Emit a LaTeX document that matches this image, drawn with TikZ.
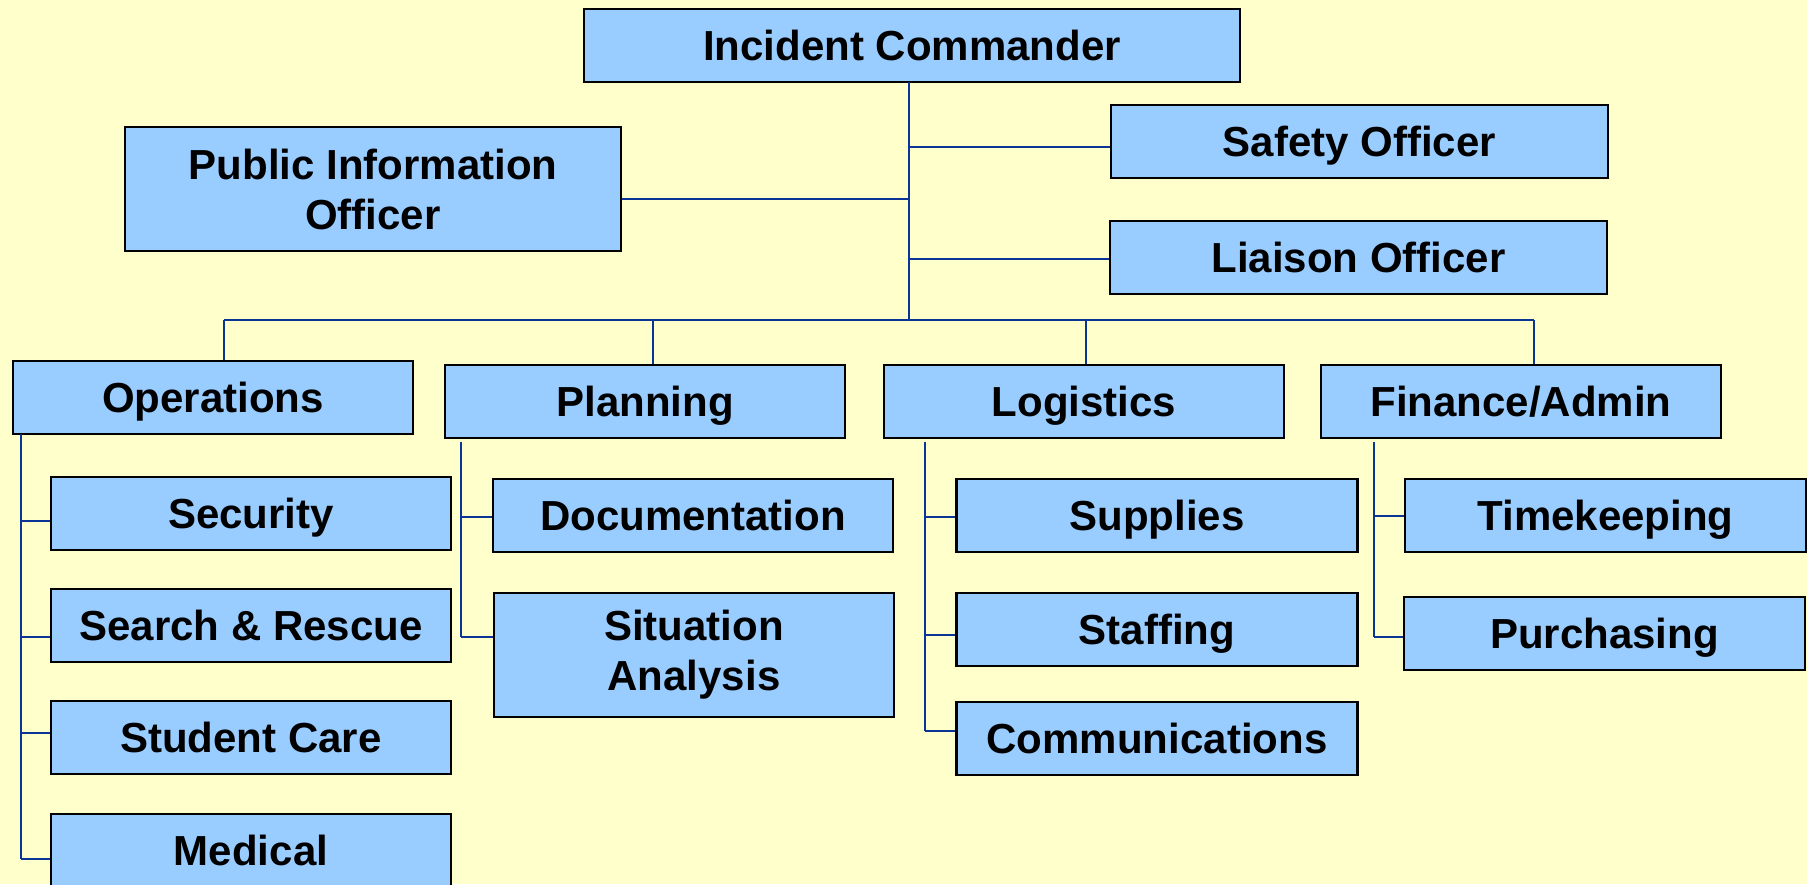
\documentclass[tikz,border=0pt]{standalone}
\usepackage{fontspec}
\setmainfont{Liberation Sans}
\definecolor{bgyellow}{HTML}{FFFFCC}
\definecolor{boxblue}{HTML}{99CCFF}
\definecolor{linkblue}{HTML}{0A3596}
\begin{document}
\begin{tikzpicture}[x=0.5pt,y=-0.5pt,
  box/.style={draw=black, line width=1.2pt, fill=boxblue, inner sep=0pt, align=center,
    font=\fontsize{21pt}{25pt}\selectfont\bfseries, minimum width=200pt, minimum height=36.5pt,
    text height=16pt, text depth=1.5pt},
  tall/.style={minimum height=62pt, text height=, text depth=},
  link/.style={draw=linkblue, line width=1.15pt}]
\fill[bgyellow] (0,0) rectangle (1807,884);
\useasboundingbox (0,0) rectangle (1807,884);
% top level
\node[box, minimum width=328pt] (ic) at (912,45.5) {Incident Commander};
\node[box, tall, minimum width=248pt] (pio) at (373,189) {Public Information\\Officer};
\node[box, minimum width=248.5pt] (safety) at (1359.5,141.5) {Safety Officer};
\node[box, minimum width=248.5pt] (liaison) at (1358.5,257.5) {Liaison Officer};
% sections
\node[box] (ops) at (213,397.5) {Operations};
\node[box] (plan) at (645,401.5) {Planning};
\node[box] (log) at (1084,401.5) {Logistics};
\node[box] (fin) at (1521,401.5) {Finance/Admin};
% operations units
\node[box] (sec) at (251,513.5) {Security};
\node[box] (sar) at (251,625.5) {Search \& Rescue};
\node[box] (stu) at (251,737.5) {Student Care};
\node[box] (med) at (251,850.5) {Medical};
% planning units
\node[box] (doc) at (693,515.5) {Documentation};
\node[box, tall] (sit) at (694,655) {Situation\\Analysis};
% logistics units
\node[box, minimum width=200.5pt] (sup) at (1157,515.5) {Supplies};
\node[box, minimum width=200.5pt] (stf) at (1157,629.5) {Staffing};
\node[box, minimum width=200.5pt] (com) at (1157,738.5) {Communications};
% finance units
\node[box, minimum width=200.5pt] (tim) at (1605.5,515.5) {Timekeeping};
\node[box, minimum width=200.5pt] (pur) at (1604.5,633.5) {Purchasing};
% command staff connectors
\coordinate (ictop) at (909,82);
\coordinate (tsf) at (909,147);
\coordinate (tpi) at (909,199);
\coordinate (tli) at (909,259);
\coordinate (bus) at (909,320);
\coordinate (busL) at (224,320);
\coordinate (busR) at (1534,320);
\path[link] (ictop) -- (bus);
\path[link] (tsf) -- (tsf -| safety.west);
\path[link] (tpi) -- (tpi -| pio.east);
\path[link] (tli) -- (tli -| liaison.west);
\path[link] (busL) -- (busR);
\path[link] (busL) -- (busL |- ops.north);
\path[link] (653,320) coordinate (dp) -- (dp |- plan.north);
\path[link] (1086,320) coordinate (dl) -- (dl |- log.north);
\path[link] (busR) -- (busR |- fin.north);
% operations spine
\coordinate (os0) at (21,434);
\coordinate (os1) at (21,521);
\coordinate (os2) at (21,637);
\coordinate (os3) at (21,733);
\coordinate (os4) at (21,859);
\path[link] (os0) -- (os4);
\path[link] (os1) -- (os1 -| sec.west);
\path[link] (os2) -- (os2 -| sar.west);
\path[link] (os3) -- (os3 -| stu.west);
\path[link] (os4) -- (os4 -| med.west);
% planning spine
\coordinate (ps0) at (461,442);
\coordinate (ps1) at (461,517);
\coordinate (ps2) at (461,637);
\path[link] (ps0) -- (ps2);
\path[link] (ps1) -- (ps1 -| doc.west);
\path[link] (ps2) -- (ps2 -| sit.west);
% logistics spine
\coordinate (ls0) at (925,442);
\coordinate (ls1) at (925,517);
\coordinate (ls2) at (925,635);
\coordinate (ls3) at (925,731);
\path[link] (ls0) -- (ls3);
\path[link] (ls1) -- (ls1 -| sup.west);
\path[link] (ls2) -- (ls2 -| stf.west);
\path[link] (ls3) -- (ls3 -| com.west);
% finance spine
\coordinate (fs0) at (1374,442);
\coordinate (fs1) at (1374,516);
\coordinate (fs2) at (1374,637);
\path[link] (fs0) -- (fs2);
\path[link] (fs1) -- (fs1 -| tim.west);
\path[link] (fs2) -- (fs2 -| pur.west);
\end{tikzpicture}
\end{document}
